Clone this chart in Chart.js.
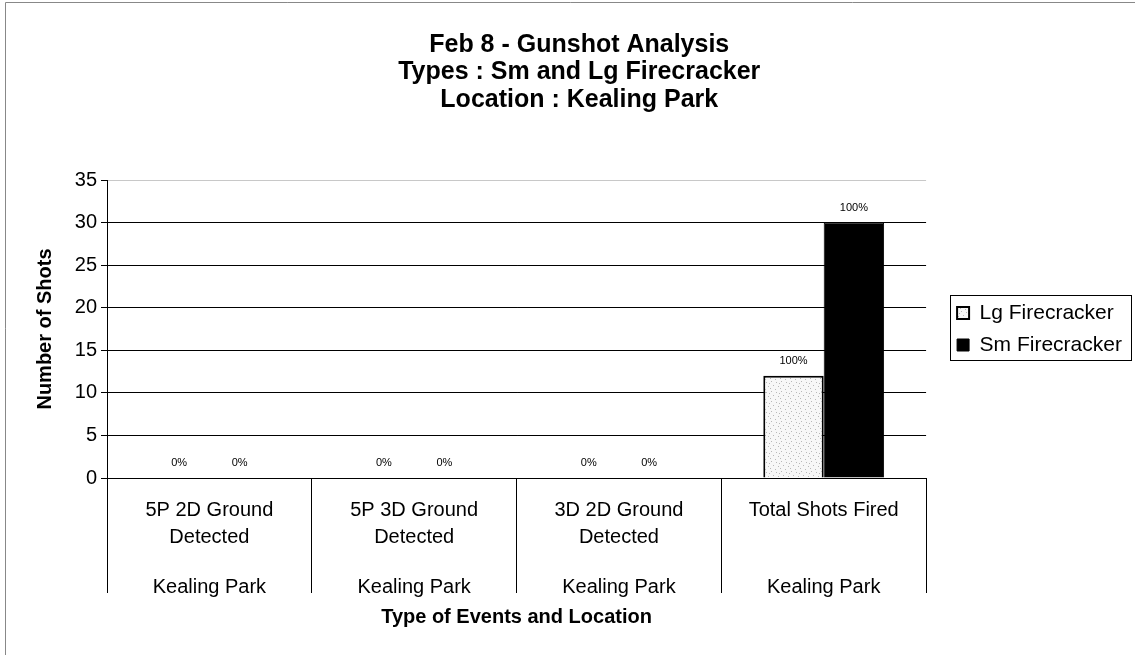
<!DOCTYPE html>
<html><head><meta charset="utf-8">
<script src="https://cdn.jsdelivr.net/npm/chart.js@4.4.1/dist/chart.umd.min.js"></script>
<style>html,body{margin:0;padding:0;background:#fff}#wrap{width:1135px;height:655px;position:relative}</style>
</head><body><div id="wrap"><canvas id="c" width="1135" height="655"></canvas></div>
<script>
// ---- data ----
const titleLines = ["Feb 8 - Gunshot Analysis", "Types : Sm and Lg Firecracker", "Location : Kealing Park"];
const categories = [["5P 2D Ground", "Detected"], ["5P 3D Ground", "Detected"], ["3D 2D Ground", "Detected"], ["Total Shots Fired"]];
const locations = ["Kealing Park", "Kealing Park", "Kealing Park", "Kealing Park"];
const seriesNames = ["Lg Firecracker", "Sm Firecracker"];
const lgShots = [0, 0, 0, 12];
const smShots = [0, 0, 0, 30];
const lgPct = ["0%", "0%", "0%", "100%"];
const smPct = ["0%", "0%", "0%", "100%"];
const yTicks = [0, 5, 10, 15, 20, 25, 30, 35];
const yTitle = "Number of Shots";
const xTitle = "Type of Events and Location";

const FONT = "'Liberation Sans', Arial, Helvetica, sans-serif";
const canvas = document.getElementById('c');
const ctx = canvas.getContext('2d');

function makeStipple() {
  const p = document.createElement('canvas');
  p.width = 10; p.height = 10;
  const g = p.getContext('2d');
  g.fillStyle = '#f7f7f7'; g.fillRect(0, 0, 10, 10);
  g.fillStyle = '#b8b8b8';
  [[1,1],[6,2],[3,5],[8,6],[0,8],[5,9],[9,3]].forEach(([x,y]) => g.fillRect(x, y, 1, 1));
  return ctx.createPattern(p, 'repeat');
}
const stipple = makeStipple();

const framePlugin = {
  id: 'frame',
  beforeDraw(chart) {
    const c = chart.ctx;
    c.save();
    c.fillStyle = '#fff';
    c.fillRect(0, 0, chart.width, chart.height);
    c.strokeStyle = '#888';
    c.lineWidth = 1;
    c.beginPath();
    c.moveTo(5.5, chart.height); c.lineTo(5.5, 2.5); c.lineTo(chart.width, 2.5);
    c.stroke();
    c.restore();
  }
};

const pctPlugin = {
  id: 'pct',
  afterDatasetsDraw(chart) {
    const c = chart.ctx;
    const lists = [lgPct, smPct];
    c.save();
    c.font = "11px " + FONT;
    c.fillStyle = '#000';
    c.textAlign = 'center';
    c.textBaseline = 'middle';
    chart.data.datasets.forEach((ds, di) => {
      const meta = chart.getDatasetMeta(di);
      meta.data.forEach((el, i) => {
        c.fillText(lists[di][i], el.x, el.y - 15);
      });
    });
    c.restore();
  }
};

const legendBoxPlugin = {
  id: 'legendBox',
  afterDraw(chart) {
    const lg = chart.legend;
    if (!lg || !lg.legendHitBoxes || !lg.legendHitBoxes.length) return;
    const hb = lg.legendHitBoxes;
    const left = Math.min(...hb.map(h => h.left)) - 7;
    const right = Math.max(...hb.map(h => h.left + h.width)) + 9;
    const top = hb[0].top + hb[0].height / 2 - 18;
    const bot = hb[hb.length - 1].top + hb[hb.length - 1].height / 2 + 15;
    const c = chart.ctx;
    c.save();
    c.strokeStyle = '#000';
    c.lineWidth = 1;
    c.strokeRect(Math.round(left) + 0.5, Math.round(top) + 0.5, Math.round(right - left), Math.round(bot - top));
    c.restore();
  }
};

new Chart(ctx, {
  type: 'bar',
  data: {
    labels: categories,
    datasets: [
      { label: seriesNames[0], data: lgShots, backgroundColor: stipple, borderColor: '#000', borderWidth: 2, borderSkipped: 'bottom' },
      { label: seriesNames[1], data: smShots, backgroundColor: '#000', borderColor: '#000', borderWidth: 1 }
    ]
  },
  options: {
    responsive: false,
    animation: false,
    devicePixelRatio: 1,
    categoryPercentage: 0.59,
    barPercentage: 1.0,
    layout: { padding: { left: 29, right: 5.5, top: 0, bottom: 26 } },
    plugins: {
      title: {
        display: true, text: titleLines, color: '#000', fullSize: true,
        font: { family: FONT, size: 25, weight: 'bold', lineHeight: 1.1 },
        padding: { top: 31, bottom: 66.5 }
      },
      legend: {
        display: true, position: 'right', align: 'center', fullSize: false,
        labels: { font: { family: FONT, size: 21 }, color: '#000', boxWidth: 12, boxHeight: 12, padding: 11 }
      },
      tooltip: { enabled: false }
    },
    scales: {
      x: {
        offset: true,
        grid: { display: true, drawOnChartArea: false, drawTicks: true, tickLength: 115, color: '#000', tickColor: '#000', offset: true },
        border: { display: true, color: '#000' },
        ticks: { font: { family: FONT, size: 20, lineHeight: 1.35 }, color: '#000', padding: -96.5, maxRotation: 0, minRotation: 0, autoSkip: false },
        afterFit(s) { s.height = 72.5; }
      },
      x2: {
        type: 'category', labels: locations, position: 'bottom', offset: true,
        grid: { display: false }, border: { display: false },
        ticks: { font: { family: FONT, size: 20, lineHeight: 1.35 }, color: '#000', padding: 15, maxRotation: 0, minRotation: 0, autoSkip: false },
        title: { display: true, text: xTitle, color: '#000', font: { family: FONT, size: 20, weight: 'bold' }, padding: { top: 0, bottom: 0 } },
        afterFit(s) { s.height = 78.5; }
      },
      y: {
        min: yTicks[0], max: yTicks[yTicks.length - 1],
        afterBuildTicks(s) { s.ticks = yTicks.map(v => ({ value: v })); },
        ticks: { font: { family: FONT, size: 20 }, color: '#000', padding: 4 },
        grid: { color: (c) => (c.tick && c.tick.value === 35) ? '#c8c8c8' : '#000', tickColor: '#000', tickLength: 6, lineWidth: 1 },
        border: { display: true, color: '#000' },
        title: { display: true, text: yTitle, color: '#000', font: { family: FONT, size: 20, weight: 'bold' }, padding: { top: 4, bottom: 0 } },
        afterFit(s) { s.width = 78; }
      },
      yR: {
        type: 'linear', position: 'right', display: true,
        grid: { display: false }, border: { display: false }, ticks: { display: false },
        afterFit(s) { s.width = 20; }
      }
    }
  },
  plugins: [framePlugin, pctPlugin, legendBoxPlugin]
});
</script>
</body></html>
